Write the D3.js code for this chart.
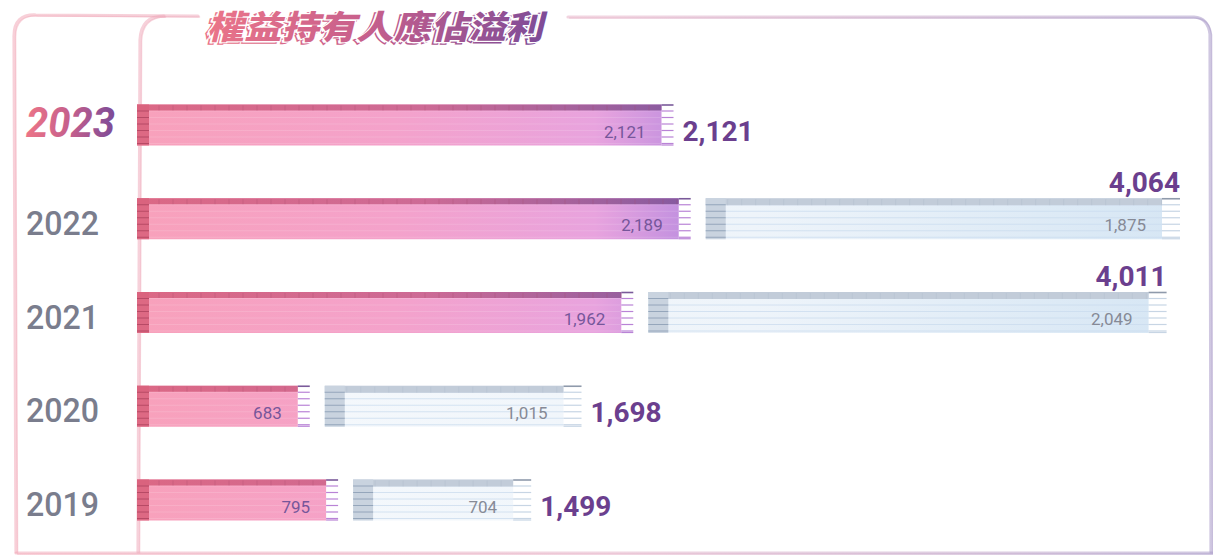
<!DOCTYPE html>
<html>
<head>
<meta charset="utf-8">
<script src="https://cdn.jsdelivr.net/npm/d3@7"></script>
<style>
  html, body { margin: 0; padding: 0; background: #fff; }
  svg { display: block; }
</style>
</head>
<body>
<div id="chart"></div>
<script>
// ---- data ----
const years = ['2023', '2022', '2021', '2020', '2019'];
const pinkValues = [2121, 2189, 1962, 683, 795];
const blueValues = [null, 1875, 2049, 1015, 704];
const totals = [2121, 4064, 4011, 1698, 1499];
const titleText = '權益持有人應佔溢利';

const config = {
  width: 1213,
  height: 557,
  x0: 137,
  gap: 15,
  barH: 41,
  pinkComb: 12,
  blueComb: 18,
  lineStep: 6.5
};

const fmt = d3.format(',');

const svg = d3.select('#chart')
  .append('svg')
  .attr('width', config.width)
  .attr('height', config.height);

const defs = svg.append('defs');

function addGradient(id, x1, x2, stops) {
  const g = defs.append('linearGradient')
    .attr('id', id)
    .attr('gradientUnits', 'userSpaceOnUse')
    .attr('x1', x1).attr('x2', x2)
    .attr('y1', 0).attr('y2', 0);
  stops.forEach(([o, c]) => g.append('stop').attr('offset', o).attr('stop-color', c));
}

addGradient('pinkBody', 137, 710, [[0, '#f8a1bb'], [0.45, '#f4a2cb'], [0.8, '#e8a3de'], [1, '#b68be0']]);
addGradient('pinkTop', 137, 710, [[0, '#d8627f'], [0.5, '#c9648f'], [1, '#77529a']]);
addGradient('blueBody', 330, 1180, [[0, '#f4f8fc'], [0.5, '#eef4fa'], [1, '#d6e6f4']]);
addGradient('frame', 0, 1213, [[0, '#f2a9b8'], [0.5, '#e6b3c8'], [1, '#a99ac8']]);
// title gradient is in the title group's local coordinates
addGradient('titleGrad', 0, 345, [[0, '#ea7489'], [0.45, '#c75f8c'], [1, '#7a4a98']]);
addGradient('yearGrad', 26, 116, [[0, '#ec7488'], [0.5, '#c45f8c'], [1, '#7a4a98']]);

// ---- scales ----
const x = d3.scaleLinear().domain([0, 4064]).range([0, 1028]);
const y = d3.scalePoint().domain(years).range([125, 500]);

// ---- frame ----
const frame = svg.append('g').attr('fill', 'none').attr('stroke', 'url(#frame)');
const framePaths = [
  'M16,552 L14,36 Q14,14 36,15 L198,16',
  'M138,552 L140,40 Q141,16 164,16',
  'M568,17 L1194,17 Q1208,18 1210,34 L1211,552',
  'M16,553 L1212,553'
];
[[0, 3.2, 0.55], [1.6, 1.4, 0.5]].forEach(([off, w, op]) => {
  frame.selectAll(null)
    .data(framePaths)
    .join('path')
    .attr('d', d => d)
    .attr('transform', `translate(${off},${off * 0.6})`)
    .attr('stroke-width', w)
    .attr('stroke-opacity', op)
    .attr('stroke-linecap', 'round');
});

// ---- title ----
const title = svg.append('g').attr('transform', 'translate(207,39) skewX(-14)');
[[-3, 2, false], [0, 0, true]].forEach(([dx, dy, front]) => {
  title.append('text')
    .attr('x', dx).attr('y', dy)
    .text(titleText)
    .attr('font-family', '"Noto Sans CJK TC", sans-serif')
    .attr('font-weight', 900)
    .attr('font-size', 33)
    .attr('textLength', 336)
    .attr('lengthAdjust', 'spacingAndGlyphs')
    .attr('fill', front ? 'url(#titleGrad)' : 'none')
    .attr('stroke', front ? '#fff' : 'url(#titleGrad)')
    .attr('stroke-width', front ? 2.4 : 1.3)
    .attr('paint-order', 'stroke');
});

// ---- year labels ----
svg.append('g')
  .selectAll('text')
  .data(years)
  .join('text')
  .attr('x', 26)
  .attr('y', (d, i) => y(d) + (i === 0 ? 12 : 16))
  .text(d => d)
  .attr('font-family', 'Roboto, sans-serif')
  .attr('font-size', (d, i) => i === 0 ? 43 : 33)
  .attr('font-weight', (d, i) => i === 0 ? 700 : 500)
  .attr('font-style', (d, i) => i === 0 ? 'italic' : 'normal')
  .attr('textLength', (d, i) => i === 0 ? 89 : 73)
  .attr('lengthAdjust', 'spacingAndGlyphs')
  .attr('fill', (d, i) => i === 0 ? 'url(#yearGrad)' : '#7a7d8d');

// ---- bar segments ----
function drawSegment(g, sx, w, top, kind) {
  const pink = kind === 'pink';
  const comb = pink ? config.pinkComb : config.blueComb;
  const block = pink ? 12 : 20;
  const stripe = pink ? 6 : 7;
  const bodyEnd = sx + w - comb;
  const h = config.barH;
  const lines = d3.range(top + config.lineStep, top + h, config.lineStep);

  g.append('rect')
    .attr('x', sx).attr('y', top)
    .attr('width', bodyEnd - sx).attr('height', h)
    .attr('fill', pink ? 'url(#pinkBody)' : 'url(#blueBody)');

  // faint horizontal lines across body
  g.selectAll(null)
    .data(lines)
    .join('line')
    .attr('x1', sx).attr('x2', bodyEnd)
    .attr('y1', d => d).attr('y2', d => d)
    .attr('stroke', pink ? '#ffffff' : '#c9dbee')
    .attr('stroke-opacity', pink ? 0.14 : 0.75)
    .attr('stroke-width', 1);

  // top stripe
  g.append('rect')
    .attr('x', sx).attr('y', top)
    .attr('width', bodyEnd - sx).attr('height', stripe)
    .attr('fill', pink ? 'url(#pinkTop)' : '#c2ccd9')
    .attr('opacity', pink ? 0.9 : 1);

  // small ticks in the stripe
  g.selectAll(null)
    .data(d3.range(sx + 8, bodyEnd, 14))
    .join('line')
    .attr('x1', d => d).attr('x2', d => d)
    .attr('y1', top + 1).attr('y2', top + stripe)
    .attr('stroke', pink ? '#a84a6a' : '#aab7c7')
    .attr('stroke-opacity', 0.3);

  // left block
  g.append('rect')
    .attr('x', sx).attr('y', top)
    .attr('width', block).attr('height', h)
    .attr('fill', pink ? '#d9637d' : '#c9d3df')
    .attr('opacity', pink ? 0.9 : 1);
  g.selectAll(null)
    .data(lines)
    .join('line')
    .attr('x1', sx).attr('x2', sx + block)
    .attr('y1', d => d).attr('y2', d => d)
    .attr('stroke', pink ? '#a73d58' : '#7f93ab')
    .attr('stroke-opacity', 0.7);

  // comb at the end
  g.selectAll(null)
    .data([top + 0.5].concat(lines, [top + h - 0.5]))
    .join('line')
    .attr('x1', bodyEnd).attr('x2', sx + w)
    .attr('y1', d => d).attr('y2', d => d)
    .attr('stroke', (d, i) => i === 0 ? (pink ? '#7a5a9a' : '#8f9aab') : (pink ? '#b983d6' : '#c7d5e4'))
    .attr('stroke-width', (d, i) => i === 0 ? 1.6 : 1.2);

  return bodyEnd;
}

const rows = svg.append('g');

years.forEach((year, i) => {
  const g = rows.append('g');
  const top = y(year) - config.barH / 2;
  const bottom = top + config.barH;
  const pw = x(pinkValues[i]);
  const pEnd = drawSegment(g, config.x0, pw, top, 'pink');

  g.append('text')
    .attr('x', pEnd - 16)
    .attr('y', bottom - 8)
    .attr('text-anchor', 'end')
    .text(fmt(pinkValues[i]))
    .attr('font-family', 'Roboto, sans-serif')
    .attr('font-weight', 400)
    .attr('font-size', 17)
    .attr('fill', '#76569a');

  let end = config.x0 + pw;

  if (blueValues[i] != null) {
    const bx = end + config.gap;
    const bw = x(blueValues[i]);
    const bEnd = drawSegment(g, bx, bw, top, 'blue');
    g.append('text')
      .attr('x', bEnd - 16)
      .attr('y', bottom - 8)
      .attr('text-anchor', 'end')
      .text(fmt(blueValues[i]))
      .attr('font-family', 'Roboto, sans-serif')
      .attr('font-weight', 400)
      .attr('font-size', 17)
      .attr('fill', '#868a96');
    end = bx + bw;
  }

  const above = end > 950;
  g.append('text')
    .attr('x', above ? end : end + 9)
    .attr('y', above ? top - 6 : bottom - 5)
    .attr('text-anchor', above ? 'end' : 'start')
    .text(fmt(totals[i]))
    .attr('font-family', 'Roboto, sans-serif')
    .attr('font-weight', 700)
    .attr('font-size', 28)
    .attr('fill', '#6b3f8e');
});
</script>
</body>
</html>
